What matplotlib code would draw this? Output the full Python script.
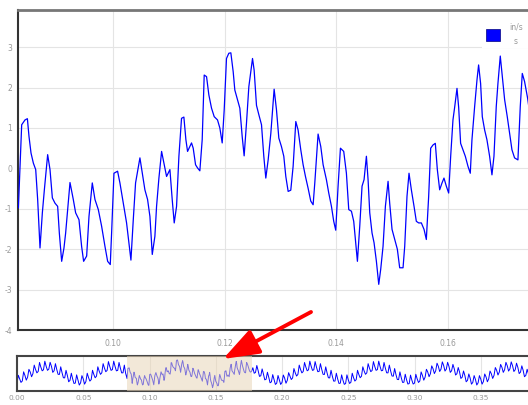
import matplotlib
matplotlib.use("Agg")
import matplotlib.pyplot as plt
from matplotlib.patches import Rectangle, FancyArrowPatch

# ---- DATA ----
SAMPLE_DT = 0.001

# overview samples before the zoomed window (t = 0.000 .. 0.082)
head_v = [
  -1.85, -0.31, -1.02, -1.78, -1.49, 0.41, -0.35, -1.31, -0.70, 0.93,
  0.36, -0.61, 0.03, 1.80, 0.90, 0.20, 0.49, 2.35, 1.38, 0.62,
  0.84, 2.61, 1.56, 0.72, 0.97, 2.38, 1.55, 0.30, 0.63, 2.10,
  0.91, -0.11, -0.12, 1.45, 0.22, -0.82, -0.84, 0.72, -0.35, -1.65,
  -1.35, 0.12, -1.04, -2.00, -1.92, -0.22, -1.31, -2.33, -1.87, -0.38,
  -1.08, -2.14, -1.60, 0.12, -0.79, -1.51, -1.19, 0.73, -0.14, -0.82,
  -0.48, 1.45, 0.58, -0.11, 0.21, 2.10, 1.19, 0.44, 0.70, 2.53,
  1.53, 0.71, 0.88, 2.62, 1.53, 0.62, 0.70, 2.35, 1.19, 0.19,
  0.21, 1.80, 0.10,
]

# detailed points inside the zoomed window
main_t = [
  0.08307, 0.08366, 0.08426, 0.08468, 0.08497, 0.08533, 0.08575, 0.08617, 0.08652, 0.08694,
  0.08736, 0.08772, 0.08831, 0.08873, 0.08915, 0.08962, 0.09010, 0.09040, 0.09082, 0.09123,
  0.09153, 0.09231, 0.09290, 0.09332, 0.09392, 0.09439, 0.09475, 0.09529, 0.09571, 0.09630,
  0.09678, 0.09738, 0.09797, 0.09857, 0.09905, 0.09952, 0.09976, 0.10018, 0.10083, 0.10125,
  0.10185, 0.10244, 0.10286, 0.10322, 0.10364, 0.10405, 0.10483, 0.10525, 0.10572, 0.10620,
  0.10662, 0.10704, 0.10751, 0.10781, 0.10823, 0.10871, 0.10912, 0.10960, 0.11020, 0.11061,
  0.11097, 0.11139, 0.11181, 0.11228, 0.11270, 0.11306, 0.11336, 0.11407, 0.11437, 0.11479,
  0.11515, 0.11556, 0.11598, 0.11634, 0.11676, 0.11717, 0.11765, 0.11813, 0.11872, 0.11914,
  0.11956, 0.11992, 0.12033, 0.12075, 0.12111, 0.12153, 0.12182, 0.12230, 0.12272, 0.12314,
  0.12349, 0.12391, 0.12433, 0.12499, 0.12528, 0.12570, 0.12612, 0.12660, 0.12701, 0.12737,
  0.12779, 0.12827, 0.12886, 0.12928, 0.12970, 0.13017, 0.13059, 0.13095, 0.13137, 0.13184,
  0.13226, 0.13274, 0.13315, 0.13363, 0.13405, 0.13447, 0.13494, 0.13542, 0.13584, 0.13614,
  0.13673, 0.13721, 0.13763, 0.13822, 0.13864, 0.13912, 0.13953, 0.13989, 0.14031, 0.14073,
  0.14132, 0.14180, 0.14222, 0.14270, 0.14311, 0.14341, 0.14377, 0.14419, 0.14460, 0.14496,
  0.14538, 0.14568, 0.14598, 0.14639, 0.14675, 0.14717, 0.14759, 0.14794, 0.14836, 0.14878,
  0.14926, 0.14955, 0.14997, 0.15045, 0.15092, 0.15134, 0.15194, 0.15224, 0.15265, 0.15301,
  0.15343, 0.15391, 0.15432, 0.15474, 0.15522, 0.15570, 0.15611, 0.15653, 0.15689, 0.15731,
  0.15772, 0.15808, 0.15850, 0.15892, 0.15927, 0.15969, 0.16011, 0.16047, 0.16088, 0.16118,
  0.16160, 0.16190, 0.16225, 0.16267, 0.16309, 0.16357, 0.16398, 0.16428, 0.16476, 0.16518,
  0.16547, 0.16583, 0.16613, 0.16655, 0.16696, 0.16744, 0.16786, 0.16822, 0.16863, 0.16893,
  0.16935, 0.16971, 0.17013, 0.17060, 0.17102, 0.17144, 0.17191, 0.17251, 0.17293, 0.17329,
  0.17370, 0.17424, 0.17480, 0.17550, 0.17620, 0.17700,
]
main_v = [
  -0.98, 1.08, 1.20, 1.23, 0.79, 0.38, 0.13, -0.03, -0.77, -1.97,
  -1.10, -0.53, 0.34, -0.03, -0.73, -0.86, -0.94, -1.60, -2.30, -1.97,
  -1.60, -0.35, -0.77, -1.10, -1.27, -1.93, -2.30, -2.17, -1.19, -0.36,
  -0.77, -1.02, -1.43, -1.93, -2.30, -2.38, -1.60, -0.12, -0.07, -0.36,
  -0.86, -1.35, -1.85, -2.27, -1.27, -0.36, 0.26, -0.12, -0.53, -0.77,
  -1.19, -2.13, -1.68, -0.94, -0.24, 0.42, 0.13, -0.20, -0.03, -0.77,
  -1.35, -0.94, 0.30, 1.24, 1.27, 0.71, 0.42, 0.63, 0.50, 0.09,
  0.01, -0.06, 0.71, 2.31, 2.27, 1.82, 1.49, 1.28, 1.20, 1.00,
  0.63, 1.45, 2.72, 2.85, 2.86, 2.39, 1.94, 1.70, 1.49, 0.79,
  0.31, 1.12, 2.02, 2.72, 2.43, 1.56, 1.33, 1.08, 0.30, -0.24,
  0.21, 0.87, 1.96, 1.45, 0.75, 0.54, 0.30, -0.20, -0.57, -0.54,
  0.05, 1.16, 0.95, 0.46, 0.09, -0.20, -0.49, -0.81, -0.90, -0.36,
  0.85, 0.54, 0.09, -0.28, -0.61, -0.94, -1.31, -1.53, -0.44, 0.50,
  0.42, -0.12, -1.02, -1.06, -1.31, -1.76, -2.30, -1.43, -0.44, -0.28,
  0.30, -0.28, -1.10, -1.60, -1.84, -2.30, -2.87, -2.50, -1.93, -0.94,
  -0.32, -0.86, -1.51, -1.76, -2.00, -2.46, -2.46, -1.93, -0.69, -0.12,
  -0.53, -0.94, -1.31, -1.35, -1.35, -1.51, -1.76, -0.69, 0.50, 0.58,
  0.62, -0.03, -0.53, -0.36, -0.24, -0.44, -0.61, 0.30, 1.20, 1.51,
  1.98, 1.51, 0.62, 0.46, 0.30, 0.05, -0.12, 0.71, 1.53, 2.19,
  2.56, 2.10, 1.28, 0.95, 0.71, 0.30, -0.16, 0.30, 1.53, 2.10,
  2.78, 2.27, 1.70, 1.28, 0.87, 0.46, 0.26, 0.21, 1.53, 2.35,
  2.15, 1.74, 1.20, 0.60, 0.35, 0.50,
]

# overview samples after the zoomed window (t = 0.178 .. 0.400)
TAIL_START = 0.178
tail_v = [
  1.26, 0.12, 0.28, 1.72, 0.65, -0.53, -0.41, 1.01, -0.07, -1.25,
  -1.12, 0.32, -0.72, -1.86, -1.67, -0.17, -1.15, -2.20, -1.94, -0.35,
  -1.24, -2.20,
  -1.78, -0.25, -0.90, -1.95, -1.35, 0.24, -0.49, -1.18, -0.85, 1.09,
  0.21, -0.46, -0.13, 1.80, 0.90, 0.19, 0.48, 2.34, 1.40, 0.63,
  0.82, 2.62, 1.57, 0.71, 0.83, 2.53, 1.39, 0.44, 0.49, 2.10,
  0.90, -0.11, -0.13, 1.44, 0.21, -0.82, -0.85, 0.73, -0.50, -1.51,
  -1.50, 0.12, -1.05, -2.00, -1.93, -0.22, -1.32, -2.18, -2.02, -0.22,
  -1.23, -2.00, -1.75, 0.12, -0.80, -1.50, -1.20, 0.73, -0.15, -0.81,
  -0.49, 1.45, 0.57, -0.10, 0.20, 2.10, 1.18, 0.45, 0.69, 2.53,
  1.52, 0.72, 0.87, 2.62, 1.52, 0.63, 0.69, 2.35, 1.18, 0.20,
  0.20, 1.80, 0.57, -0.45, -0.49, 1.09, -0.15, -1.17, -1.20, 0.40,
  -0.80, -1.78, -1.75, -0.09, -1.23, -2.12, -2.02, -0.27, -1.32, -2.12,
  -1.92, -0.10, -1.04, -1.79, -1.49, 0.39, -0.35, -1.32, -0.70, 0.94,
  0.36, -0.60, 0.02, 1.65, 1.05, 0.05, 0.63, 2.20, 1.54, 0.48,
  0.97, 2.47, 1.72, 0.57, 0.97, 2.38, 1.54, 0.30, 0.63, 1.95,
  1.05, -0.25, 0.02, 1.30, 0.36, -0.96, -0.70, 0.58, -0.35, -1.65,
  -1.35, -0.03, -0.90, -2.14, -1.78, -0.37, -1.17, -2.32, -1.87, -0.37,
  -1.08, -2.14, -1.60, -0.03, -0.65, -1.65, -1.05, 0.58, 0.00, -0.96,
  -0.34, 1.30, 0.72, -0.25, 0.35, 1.95, 1.33, 0.30, 0.84, 2.38,
  1.67, 0.57, 1.02, 2.47, 1.67, 0.48, 0.84, 2.20, 1.33, 0.05,
  0.35, 1.65, 0.72, -0.60, -0.34, 0.94, 0.00, -1.32, -1.05, 0.25,
  -0.65, -1.93, -1.60, -0.24, -1.08, -2.27, -1.87, -0.42, -1.17, -2.27,
  -1.85,
]

view_range = (0.083, 0.177)
full_range = (0.0, 0.40)
main_yticks = [-4, -3, -2, -1, 0, 1, 2, 3]
main_xticks = [0.10, 0.12, 0.14, 0.16]
range_xticks = [0.00, 0.05, 0.10, 0.15, 0.20, 0.25, 0.30, 0.35]
legend_label = "in/s"

head_t = [i * SAMPLE_DT for i in range(len(head_v))]
tail_t = [TAIL_START + i * SAMPLE_DT for i in range(len(tail_v))]
t_all = head_t + main_t + tail_t
v_all = head_v + main_v + tail_v

# ---- STYLE ----
plt.rcParams["font.family"] = ["DejaVu Sans"]
plt.rcParams["axes.unicode_minus"] = False
W, H = 528, 405
LABEL = "#999999"
GRID = "#e4e4e4"
LINE = "#0000ff"

def fx(px):
  return px / W

def fy(py):
  return (H - py) / H

fig = plt.figure(figsize=(W / 100, H / 100), dpi=100)

# ---- MAIN PLOT ----
ax = fig.add_axes([fx(18), fy(330), 525 / W, 320 / H])
ax.plot(t_all, v_all, color=LINE, lw=0.9, zorder=3)
ax.set_xlim(*view_range)
ax.set_ylim(-4, 3.92)
ax.set_xticks(main_xticks)
ax.set_xticklabels([f"{x:.2f}" for x in main_xticks])
ax.set_yticks(main_yticks)
ax.set_yticklabels([str(y) for y in main_yticks])
ax.grid(True, color=GRID, lw=0.8)
ax.set_axisbelow(True)
ax.tick_params(axis="both", length=0, labelsize=5.5, labelcolor=LABEL)
ax.tick_params(axis="x", pad=6.5)
ax.tick_params(axis="y", pad=4.3)
ax.spines["right"].set_visible(False)
ax.spines["left"].set_color("#333333")
ax.spines["left"].set_linewidth(1.5)
ax.spines["bottom"].set_color("#333333")
ax.spines["bottom"].set_linewidth(1.5)
ax.spines["top"].set_color("#777777")
ax.spines["top"].set_linewidth(2)

# ---- RANGE SELECTOR ----
rs = fig.add_axes([fx(17), fy(391), 530 / W, 35 / H])
rs.plot(t_all, v_all, color=LINE, lw=0.7, zorder=2)
rs.axvspan(view_range[0], view_range[1], color="#e9d6b8", alpha=0.55, lw=0, zorder=3)
rs.set_xlim(*full_range)
rs.set_ylim(-3.56, 3.69)
rs.set_xticks(range_xticks)
rs.set_xticklabels([f"{x:.2f}" for x in range_xticks])
rs.set_yticks([])
rs.grid(True, axis="x", color=GRID, lw=0.8)
rs.set_axisbelow(True)
rs.tick_params(axis="x", length=0, labelsize=5.3, labelcolor=LABEL, pad=3.2)
rs.spines["right"].set_visible(False)
for side in ["top", "bottom", "left"]:
  rs.spines[side].set_color("#444444")
  rs.spines[side].set_linewidth(1.5)

# ---- LEGEND ----
fig.add_artist(Rectangle((fx(482), fy(48)), 46 / W, 30 / H, transform=fig.transFigure,
                         facecolor="white", edgecolor="none", zorder=5))
fig.add_artist(Rectangle((fx(486), fy(41)), 14 / W, 12 / H, transform=fig.transFigure,
                         facecolor=LINE, edgecolor="#000080", lw=0.5, zorder=6))
fig.text(fx(516), fy(27), legend_label, fontsize=5.5, color=LABEL, ha="center", va="center", zorder=6)
fig.text(fx(516), fy(42), "s", fontsize=5.5, color=LABEL, ha="center", va="center", zorder=6)

# ---- ARROW ----
arrow = FancyArrowPatch((fx(311), fy(312)), (fx(223), fy(359)), transform=fig.transFigure,
                        arrowstyle="-|>,head_length=1.1,head_width=0.4", mutation_scale=20,
                        color="#ff0000", lw=2.8, shrinkA=0, shrinkB=0, zorder=10)
fig.add_artist(arrow)

fig.savefig("out.png", dpi=100)
